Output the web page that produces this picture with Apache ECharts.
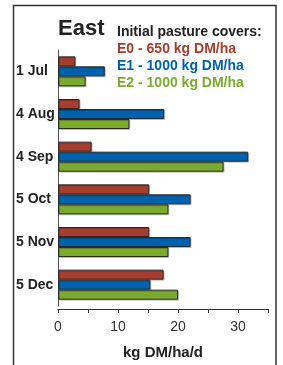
<!DOCTYPE html>
<html>
<head>
<meta charset="utf-8">
<script src="https://cdn.jsdelivr.net/npm/echarts@6/dist/echarts.min.js"></script>
<style>
  html, body { margin: 0; padding: 0; background: #fff; }
  #chart { width: 283px; height: 365px; }
</style>
</head>
<body>
<div id="chart"></div>
<script>
// data
const dates = ['1 Jul', '4 Aug', '4 Sep', '5 Oct', '5 Nov', '5 Dec']
const e0 = [2.9, 3.6, 5.6, 15.2, 15.2, 17.6]
const e1 = [7.8, 17.7, 31.7, 22.1, 22.1, 15.4]
const e2 = [4.6, 11.9, 27.6, 18.4, 18.4, 20.0]
const legendLines = ['E0 - 650 kg DM/ha', 'E1 - 1000 kg DM/ha', 'E2 - 1000 kg DM/ha']
const colors = ['#a63d2e', '#0062ac', '#7bab2e']

const font = 'Liberation Sans, Arial, sans-serif'

function barSeries(name, data, color) {
  return {
    name: name,
    type: 'bar',
    data: data,
    barGap: '0%',
    barWidth: 10,
    itemStyle: {
      color: color,
      borderColor: '#2a2a2a',
      borderWidth: 1,
      shadowColor: 'rgba(0,0,0,0.2)',
      shadowOffsetX: 1,
      shadowOffsetY: 1
    }
  }
}

const chart = echarts.init(document.getElementById('chart'))

const option = {
  backgroundColor: '#fff',
  animation: false,
  grid: { left: 58, right: 15, top: 50, bottom: 52 },
  xAxis: {
    type: 'value',
    min: 0,
    max: 35,
    interval: 5,
    offset: 3,
    axisLine: { show: true, lineStyle: { color: '#333', width: 1 } },
    axisTick: { show: true, length: 4, lineStyle: { color: '#333' } },
    splitLine: { show: false },
    axisLabel: {
      margin: 11,
      color: '#333',
      fontSize: 14,
      fontFamily: font,
      formatter: v => (v % 10 === 0 ? String(v) : '')
    },
    name: 'kg DM/ha/d',
    nameLocation: 'middle',
    nameGap: 36,
    nameTextStyle: { color: '#222', fontSize: 15, fontWeight: 'bold', fontFamily: font }
  },
  yAxis: {
    type: 'category',
    data: dates,
    inverse: true,
    axisLine: { show: true, lineStyle: { color: '#555', width: 1 } },
    axisTick: { show: false },
    axisLabel: {
      align: 'left',
      margin: 42,
      color: '#222',
      fontSize: 14,
      fontWeight: 'bold',
      fontFamily: font
    }
  },
  graphic: [
    {
      type: 'rect',
      shape: { x: 13.5, y: 5.5, width: 262.5, height: 420 },
      style: { fill: 'none', stroke: '#333', lineWidth: 1.5 },
      z: 100
    },
    {
      type: 'text', left: 58, top: 18,
      style: { text: 'East', fill: '#222', font: 'bold 22px ' + font }
    },
    {
      type: 'text', left: 117, top: 25,
      style: { text: 'Initial pasture covers:', fill: '#222', font: 'bold 14px ' + font }
    },
    {
      type: 'text', left: 117, top: 42,
      style: { text: legendLines[0], fill: colors[0], font: 'bold 14px ' + font }
    },
    {
      type: 'text', left: 117, top: 59,
      style: { text: legendLines[1], fill: colors[1], font: 'bold 14px ' + font }
    },
    {
      type: 'text', left: 117, top: 76,
      style: { text: legendLines[2], fill: colors[2], font: 'bold 14px ' + font }
    }
  ],
  series: [
    barSeries('E0', e0, colors[0]),
    barSeries('E1', e1, colors[1]),
    barSeries('E2', e2, colors[2])
  ]
}

chart.setOption(option)
</script>
</body>
</html>
